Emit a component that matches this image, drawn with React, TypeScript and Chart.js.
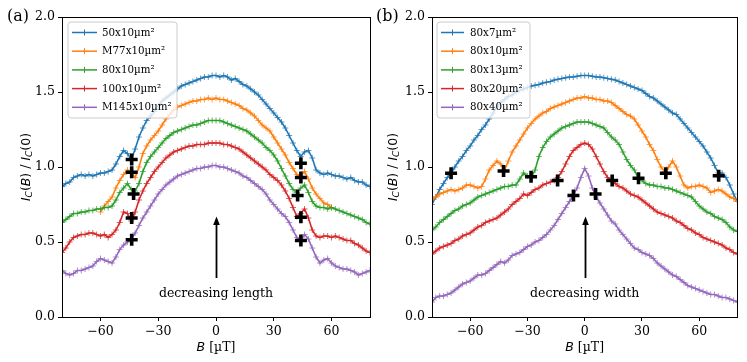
import React, { useEffect, useRef } from "react";
import { Chart, registerables } from "chart.js";

Chart.register(...registerables);

// ---------------- data ----------------
const B_GRID = [
  -80, -78, -76, -74, -72, -70, -68, -66, -64, -62,
  -60, -58, -56, -54, -52, -50, -48, -46, -44, -42,
  -40, -38, -36, -34, -32, -30, -28, -26, -24, -22,
  -20, -18, -16, -14, -12, -10, -8, -6, -4, -2,
  0,
  2, 4, 6, 8, 10, 12, 14, 16, 18, 20,
  22, 24, 26, 28, 30, 32, 34, 36, 38, 40,
  42, 44, 46, 48, 50, 52, 54, 56, 58, 60,
  62, 64, 66, 68, 70, 72, 74, 76, 78, 80,
];
const B_GRID_M77 = [
  -60, -58, -56, -54, -52, -50, -48, -46, -44, -42,
  -40, -38, -36, -34, -32, -30, -28, -26, -24, -22,
  -20, -18, -16, -14, -12, -10, -8, -6, -4, -2,
  0,
  2, 4, 6, 8, 10, 12, 14, 16, 18, 20,
  22, 24, 26, 28, 30, 32, 34, 36, 38, 40,
  42, 44, 46, 48, 50, 52, 54, 56, 58, 60,
];

// Panel (a): decreasing length
const LABELS_A = ["50x10µm²", "M77x10µm²", "80x10µm²", "100x10µm²", "M145x10µm²"];
const A_50x10 = [
  0.87, 0.89, 0.90, 0.93, 0.94, 0.95, 0.94, 0.95, 0.94, 0.95,
  0.96, 0.96, 0.97, 0.98, 1.02, 1.07, 1.11, 1.09, 1.05, 1.12,
  1.20, 1.26, 1.31, 1.34, 1.37, 1.41, 1.44, 1.46, 1.48, 1.50,
  1.52, 1.54, 1.55, 1.56, 1.57, 1.58, 1.59, 1.60, 1.60, 1.61,
  1.61,
  1.60, 1.61, 1.60, 1.58, 1.59, 1.57, 1.55, 1.54, 1.52, 1.50,
  1.48, 1.45, 1.42, 1.39, 1.36, 1.33, 1.30, 1.26, 1.21, 1.16,
  1.11, 1.07, 1.10, 1.11, 1.06, 0.98, 0.96, 0.95, 0.96, 0.95,
  0.94, 0.94, 0.93, 0.92, 0.93, 0.91, 0.90, 0.90, 0.88, 0.87,
];
const A_M77x10 = [
  0.70, 0.74, 0.77, 0.80, 0.86, 0.91, 0.95, 0.98, 0.96, 0.93,
  1.00, 1.09, 1.14, 1.18, 1.21, 1.24, 1.28, 1.32, 1.35, 1.38,
  1.40, 1.41, 1.42, 1.43, 1.44, 1.44, 1.45, 1.45, 1.46, 1.45,
  1.46,
  1.45, 1.45, 1.44, 1.43, 1.42, 1.41, 1.39, 1.38, 1.36, 1.34,
  1.31, 1.28, 1.26, 1.24, 1.20, 1.16, 1.12, 1.08, 1.03, 0.99,
  0.95, 0.94, 0.97, 0.92, 0.86, 0.82, 0.79, 0.76, 0.75, 0.73,
];
const A_80x10 = [
  0.63, 0.65, 0.67, 0.69, 0.69, 0.70, 0.70, 0.71, 0.71, 0.72,
  0.72, 0.73, 0.73, 0.74, 0.78, 0.83, 0.86, 0.89, 0.85, 0.84,
  0.89, 0.97, 1.03, 1.07, 1.10, 1.13, 1.16, 1.19, 1.21, 1.23,
  1.24, 1.25, 1.26, 1.27, 1.28, 1.28, 1.29, 1.30, 1.31, 1.31,
  1.31,
  1.31, 1.30, 1.29, 1.28, 1.27, 1.26, 1.25, 1.24, 1.22, 1.20,
  1.18, 1.16, 1.13, 1.11, 1.08, 1.04, 0.99, 0.94, 0.89, 0.85,
  0.83, 0.86, 0.88, 0.83, 0.77, 0.74, 0.73, 0.73, 0.72, 0.73,
  0.72, 0.71, 0.70, 0.69, 0.68, 0.67, 0.66, 0.65, 0.63, 0.62,
];
const A_100x10 = [
  0.43, 0.46, 0.50, 0.53, 0.54, 0.55, 0.55, 0.56, 0.56, 0.55,
  0.54, 0.55, 0.53, 0.55, 0.58, 0.63, 0.70, 0.69, 0.64, 0.70,
  0.78, 0.84, 0.89, 0.93, 0.97, 1.00, 1.03, 1.06, 1.08, 1.10,
  1.11, 1.12, 1.13, 1.14, 1.14, 1.15, 1.15, 1.15, 1.16, 1.16,
  1.16,
  1.16, 1.15, 1.15, 1.14, 1.13, 1.12, 1.10, 1.08, 1.06, 1.04,
  1.02, 1.00, 0.98, 0.95, 0.93, 0.91, 0.88, 0.84, 0.79, 0.73,
  0.67, 0.69, 0.72, 0.66, 0.58, 0.54, 0.53, 0.54, 0.54, 0.53,
  0.54, 0.53, 0.52, 0.51, 0.51, 0.49, 0.48, 0.46, 0.44, 0.43,
];
const A_M145x10 = [
  0.31, 0.29, 0.28, 0.29, 0.31, 0.31, 0.32, 0.33, 0.34, 0.37,
  0.39, 0.38, 0.37, 0.36, 0.40, 0.45, 0.48, 0.50, 0.52, 0.56,
  0.61, 0.66, 0.70, 0.74, 0.78, 0.82, 0.85, 0.88, 0.90, 0.92,
  0.94, 0.95, 0.96, 0.97, 0.98, 0.99, 0.99, 1.00, 1.00, 1.01,
  1.01,
  1.00, 1.00, 0.99, 0.98, 0.97, 0.96, 0.94, 0.93, 0.91, 0.89,
  0.87, 0.85, 0.82, 0.78, 0.75, 0.72, 0.69, 0.67, 0.63, 0.58,
  0.53, 0.51, 0.55, 0.52, 0.46, 0.40, 0.36, 0.38, 0.39, 0.36,
  0.34, 0.33, 0.32, 0.32, 0.31, 0.30, 0.28, 0.29, 0.30, 0.31,
];
const MARK_A_X = [-43.8, -43.8, -42.8, -43.8, -43.8, 44.1, 44.1, 42.4, 44.1, 44.1];
const MARK_A_Y = [1.05, 0.965, 0.82, 0.66, 0.515, 1.025, 0.93, 0.81, 0.665, 0.51];

// Panel (b): decreasing width
const LABELS_B = ["80x7µm²", "80x10µm²", "80x13µm²", "80x20µm²", "80x40µm²"];
const B_80x7 = [
  0.75, 0.80, 0.85, 0.89, 0.93, 0.96, 1.00, 1.04, 1.07, 1.11,
  1.14, 1.18, 1.21, 1.25, 1.28, 1.32, 1.36, 1.40, 1.43, 1.45,
  1.47, 1.48, 1.50, 1.51, 1.52, 1.53, 1.54, 1.545, 1.55, 1.56,
  1.565, 1.57, 1.58, 1.585, 1.59, 1.595, 1.60, 1.60, 1.605, 1.61,
  1.61,
  1.61, 1.605, 1.60, 1.60, 1.595, 1.59, 1.585, 1.58, 1.57, 1.56,
  1.55, 1.54, 1.53, 1.52, 1.51, 1.49, 1.47, 1.46, 1.44, 1.42,
  1.40, 1.38, 1.36, 1.35, 1.32, 1.29, 1.26, 1.23, 1.20, 1.17,
  1.14, 1.10, 1.06, 1.01, 0.96, 0.96, 0.93, 0.88, 0.82, 0.77,
];
const B_80x10 = [
  0.78, 0.80, 0.82, 0.83, 0.84, 0.85, 0.84, 0.85, 0.86, 0.88,
  0.88, 0.87, 0.86, 0.87, 0.92, 0.98, 1.01, 1.04, 1.02, 0.98,
  1.04, 1.10, 1.14, 1.18, 1.22, 1.26, 1.29, 1.32, 1.34, 1.36,
  1.37, 1.39, 1.40, 1.41, 1.42, 1.43, 1.44, 1.45, 1.46, 1.46,
  1.47,
  1.46, 1.46, 1.45, 1.45, 1.44, 1.44, 1.43, 1.41, 1.39, 1.37,
  1.35, 1.34, 1.32, 1.28, 1.24, 1.20, 1.15, 1.11, 1.05, 1.00,
  0.97, 1.00, 1.04, 1.00, 0.94, 0.88, 0.86, 0.87, 0.87, 0.88,
  0.87, 0.86, 0.83, 0.84, 0.85, 0.84, 0.82, 0.80, 0.79, 0.77,
];
const B_80x13 = [
  0.58, 0.60, 0.63, 0.65, 0.67, 0.69, 0.71, 0.72, 0.74, 0.75,
  0.76, 0.78, 0.80, 0.81, 0.82, 0.83, 0.84, 0.85, 0.86, 0.87,
  0.87, 0.88, 0.88, 0.92, 0.96, 0.94, 0.93, 0.98, 1.07, 1.13,
  1.17, 1.20, 1.22, 1.24, 1.26, 1.27, 1.28, 1.29, 1.30, 1.30,
  1.30,
  1.30, 1.29, 1.28, 1.27, 1.26, 1.23, 1.20, 1.18, 1.15, 1.10,
  1.05, 1.01, 0.98, 0.93, 0.91, 0.89, 0.88, 0.88, 0.87, 0.87,
  0.86, 0.86, 0.85, 0.84, 0.83, 0.82, 0.81, 0.80, 0.77, 0.74,
  0.72, 0.70, 0.69, 0.67, 0.66, 0.65, 0.63, 0.60, 0.58, 0.57,
];
const B_80x20 = [
  0.42, 0.44, 0.46, 0.47, 0.48, 0.49, 0.51, 0.52, 0.54, 0.55,
  0.56, 0.58, 0.60, 0.61, 0.63, 0.64, 0.65, 0.66, 0.68, 0.70,
  0.72, 0.75, 0.77, 0.79, 0.82, 0.81, 0.83, 0.85, 0.86, 0.88,
  0.89, 0.90, 0.91, 0.93, 0.97, 1.02, 1.07, 1.11, 1.13, 1.15,
  1.16,
  1.15, 1.12, 1.07, 1.02, 0.97, 0.93, 0.91, 0.89, 0.87, 0.86,
  0.84, 0.82, 0.81, 0.80, 0.78, 0.76, 0.74, 0.72, 0.70, 0.69,
  0.68, 0.67, 0.66, 0.64, 0.63, 0.61, 0.59, 0.58, 0.56, 0.55,
  0.53, 0.52, 0.51, 0.50, 0.49, 0.48, 0.46, 0.45, 0.43, 0.42,
];
const B_80x40 = [
  0.10, 0.13, 0.14, 0.14, 0.15, 0.16, 0.18, 0.20, 0.22, 0.23,
  0.24, 0.26, 0.28, 0.28, 0.29, 0.31, 0.33, 0.35, 0.37, 0.36,
  0.38, 0.41, 0.42, 0.43, 0.45, 0.47, 0.48, 0.50, 0.51, 0.53,
  0.55, 0.58, 0.61, 0.65, 0.69, 0.73, 0.77, 0.81, 0.86, 0.93,
  0.99,
  0.94, 0.86, 0.80, 0.76, 0.72, 0.68, 0.64, 0.62, 0.58, 0.55,
  0.52, 0.49, 0.46, 0.45, 0.43, 0.42, 0.41, 0.39, 0.36, 0.34,
  0.32, 0.30, 0.28, 0.27, 0.25, 0.23, 0.21, 0.20, 0.19, 0.18,
  0.17, 0.16, 0.15, 0.15, 0.14, 0.13, 0.13, 0.12, 0.11, 0.10,
];
const MARK_B_X = [-70, -42.5, -28.1, -14.2, -5.9, 5.7, 14.4, 28.2, 42.5, 70.2];
const MARK_B_Y = [0.958, 0.973, 0.935, 0.91, 0.81, 0.82, 0.91, 0.925, 0.958, 0.942];

const X_TICKS = [-60, -30, 0, 30, 60];
const Y_TICKS = [0, 0.5, 1.0, 1.5, 2.0];
const X_MIN = -80;
const X_MAX = 80;
const Y_MIN = 0;
const Y_MAX = 2;
const ARROW_X = 0;
const ARROW_TAIL = 0.26;
const ARROW_TIP = 0.67;
const NOTE_Y = 0.153;

// ---------------- styling ----------------
const W = 747;
const H = 362;
const COLORS = ["#1f77b4", "#ff7f0e", "#2ca02c", "#d62728", "#9467bd"];
const SERIF = '"DejaVu Serif", "Liberation Serif", serif';
const SANS = '"DejaVu Sans", "Liberation Sans", sans-serif';
const FS = 12.5;

type Run = { t: string; font: string; dy?: number };

function runsWidth(ctx: CanvasRenderingContext2D, runs: Run[]) {
  let w = 0;
  for (const r of runs) {
    ctx.font = r.font;
    w += ctx.measureText(r.t).width;
  }
  return w;
}
function drawRuns(ctx: CanvasRenderingContext2D, runs: Run[], x: number, y: number) {
  const total = runsWidth(ctx, runs);
  let cx = x - total / 2;
  for (const r of runs) {
    ctx.font = r.font;
    ctx.fillText(r.t, cx, y + (r.dy || 0));
    cx += ctx.measureText(r.t).width;
  }
}

type PanelSpec = {
  tag: string;
  labels: string[];
  xs: number[][];
  ys: number[][];
  markX: number[];
  markY: number[];
  note: string;
  padLeft: number;
  padRight: number;
  legend: { x: number; y: number; w: number; h: number; lineLen: number; textOff: number };
  tagX: number;
  ylabOff: number;
};

const PANELS: PanelSpec[] = [
  {
    tag: "(a)",
    labels: LABELS_A,
    xs: [B_GRID, B_GRID_M77, B_GRID, B_GRID, B_GRID],
    ys: [A_50x10, A_M77x10, A_80x10, A_100x10, A_M145x10],
    markX: MARK_A_X,
    markY: MARK_A_Y,
    note: "decreasing length",
    padLeft: 0,
    padRight: W - 370,
    legend: { x: 68, y: 22, w: 109, h: 96, lineLen: 25, textOff: 34 },
    tagX: 7,
    ylabOff: 37,
  },
  {
    tag: "(b)",
    labels: LABELS_B,
    xs: [B_GRID, B_GRID, B_GRID, B_GRID, B_GRID],
    ys: [B_80x7, B_80x10, B_80x13, B_80x20, B_80x40],
    markX: MARK_B_X,
    markY: MARK_B_Y,
    note: "decreasing width",
    padLeft: 432 - 62,
    padRight: W - 739,
    legend: { x: 437, y: 22, w: 93, h: 96, lineLen: 23, textOff: 33 },
    tagX: 376,
    ylabOff: 40,
  },
];

function makeConfig(spec: PanelSpec): any {
  const datasets: any[] = spec.labels.map((lab, i) => ({
    label: lab,
    data: spec.xs[i].map((x, k) => ({ x, y: spec.ys[i][k] })),
    borderColor: COLORS[i],
    backgroundColor: COLORS[i],
    borderWidth: 1.6,
    pointStyle: "cross",
    pointRadius: 3,
    pointBorderWidth: 1,
    pointBorderColor: COLORS[i] + "bb",
    tension: 0,
    order: 5 - i,
    clip: 0,
  }));
  datasets.push({
    label: "markers",
    data: spec.markX.map((x, k) => ({ x, y: spec.markY[k] })),
    showLine: false,
    borderColor: "#000",
    backgroundColor: "#000",
    pointStyle: "cross",
    pointRadius: 6,
    pointBorderWidth: 3.6,
    order: 0,
    clip: false,
  });

  const overlay = {
    id: "overlay" + spec.tag,
    afterDraw(chart: any) {
      const ctx: CanvasRenderingContext2D = chart.ctx;
      const a = chart.chartArea;
      const xs = chart.scales.x;
      const ys = chart.scales.y;
      ctx.save();
      // frame
      ctx.strokeStyle = "#000";
      ctx.lineWidth = 1;
      ctx.strokeRect(Math.round(a.left) + 0.5, Math.round(a.top) + 0.5, Math.round(a.right - a.left), Math.round(a.bottom - a.top));

      // arrow
      const ax = Math.round(xs.getPixelForValue(ARROW_X)) + 0.5;
      const yTail = ys.getPixelForValue(ARROW_TAIL);
      const yTip = ys.getPixelForValue(ARROW_TIP);
      ctx.beginPath();
      ctx.lineWidth = 1.8;
      ctx.moveTo(ax, yTail);
      ctx.lineTo(ax, yTip + 6);
      ctx.stroke();
      ctx.beginPath();
      ctx.moveTo(ax, yTip);
      ctx.lineTo(ax - 3.3, yTip + 8.5);
      ctx.lineTo(ax + 3.3, yTip + 8.5);
      ctx.closePath();
      ctx.fillStyle = "#000";
      ctx.fill();

      // note text
      ctx.fillStyle = "#000";
      ctx.font = `${FS}px ${SERIF}`;
      ctx.textAlign = "center";
      ctx.textBaseline = "middle";
      ctx.fillText(spec.note, xs.getPixelForValue(ARROW_X), ys.getPixelForValue(NOTE_Y));

      // legend
      const L = spec.legend;
      ctx.beginPath();
      const r = 3;
      ctx.moveTo(L.x + r, L.y);
      ctx.arcTo(L.x + L.w, L.y, L.x + L.w, L.y + L.h, r);
      ctx.arcTo(L.x + L.w, L.y + L.h, L.x, L.y + L.h, r);
      ctx.arcTo(L.x, L.y + L.h, L.x, L.y, r);
      ctx.arcTo(L.x, L.y, L.x + L.w, L.y, r);
      ctx.closePath();
      ctx.fillStyle = "rgba(255,255,255,0.8)";
      ctx.fill();
      ctx.strokeStyle = "#cccccc";
      ctx.lineWidth = 1;
      ctx.stroke();
      ctx.textAlign = "left";
      ctx.textBaseline = "middle";
      spec.labels.forEach((lab, i) => {
        const ry = L.y + 10.5 + i * 18.7;
        const x1 = L.x + 4;
        const x2 = x1 + L.lineLen;
        ctx.strokeStyle = COLORS[i];
        ctx.lineWidth = 1.5;
        ctx.beginPath();
        ctx.moveTo(x1, ry);
        ctx.lineTo(x2, ry);
        ctx.stroke();
        const mx = (x1 + x2) / 2;
        ctx.lineWidth = 1;
        ctx.beginPath();
        ctx.moveTo(mx, ry - 3);
        ctx.lineTo(mx, ry + 3);
        ctx.stroke();
        ctx.fillStyle = "#000";
        ctx.font = `10.3px ${SERIF}`;
        ctx.fillText(lab, L.x + L.textOff, ry + 0.5);
      });

      // y label
      ctx.fillStyle = "#000";
      ctx.textAlign = "left";
      ctx.textBaseline = "alphabetic";
      const midY = (a.top + a.bottom) / 2;
      const lx = a.left - spec.ylabOff;
      ctx.translate(lx, midY);
      ctx.rotate(-Math.PI / 2);
      const it = `italic ${FS}px ${SANS}`;
      const rg = `${FS}px ${SANS}`;
      const sub = `italic 9px ${SANS}`;
      drawRuns(
        ctx,
        [
          { t: "I", font: it },
          { t: "C", font: sub, dy: 2.5 },
          { t: "(", font: rg },
          { t: "B", font: it },
          { t: ")", font: rg },
          { t: " / ", font: `${FS}px ${SERIF}` },
          { t: "I", font: it },
          { t: "C", font: sub, dy: 2.5 },
          { t: "(0)", font: rg },
        ],
        0,
        4.5
      );
      ctx.setTransform(1, 0, 0, 1, 0, 0);

      // x label
      drawRuns(
        ctx,
        [
          { t: "B", font: it },
          { t: " [µT]", font: `${FS}px ${SERIF}` },
        ],
        (a.left + a.right) / 2,
        351
      );

      // panel tag
      ctx.font = `16px ${SERIF}`;
      ctx.textAlign = "left";
      ctx.textBaseline = "middle";
      ctx.fillText(spec.tag, spec.tagX, 17);
      ctx.restore();
    },
  };

  return {
    type: "line",
    data: { datasets },
    options: {
      animation: false,
      responsive: false,
      events: [],
      layout: { padding: { left: spec.padLeft, right: spec.padRight, top: 17, bottom: 0 } },
      plugins: { legend: { display: false }, tooltip: { enabled: false } },
      scales: {
        x: {
          type: "linear",
          min: X_MIN,
          max: X_MAX,
          afterBuildTicks: (axis: any) => {
            axis.ticks = X_TICKS.map((v) => ({ value: v }));
          },
          afterFit: (scale: any) => {
            scale.height = H - 317;
          },
          ticks: {
            color: "#000",
            padding: 3,
            maxRotation: 0,
            autoSkip: false,
            font: { family: SERIF, size: FS },
            callback: (v: any) => String(v).replace("-", "\u2212"),
          },
          grid: { display: true, drawOnChartArea: false, drawTicks: true, tickLength: 4, tickColor: "#000", tickWidth: 1 },
          border: { display: true, color: "#000", width: 1 },
        },
        y: {
          type: "linear",
          min: Y_MIN,
          max: Y_MAX,
          afterBuildTicks: (axis: any) => {
            axis.ticks = Y_TICKS.map((v) => ({ value: v }));
          },
          afterFit: (scale: any) => {
            scale.width = 62;
          },
          ticks: {
            color: "#000",
            padding: 3,
            autoSkip: false,
            font: { family: SERIF, size: FS },
            callback: (v: any) => Number(v).toFixed(1),
          },
          grid: { display: true, drawOnChartArea: false, drawTicks: true, tickLength: 4, tickColor: "#000", tickWidth: 1 },
          border: { display: true, color: "#000", width: 1 },
        },
      },
    },
    plugins: [overlay],
  };
}

function Panel({ spec }: { spec: PanelSpec }) {
  const ref = useRef<HTMLCanvasElement>(null);
  useEffect(() => {
    const chart = new Chart(ref.current as HTMLCanvasElement, makeConfig(spec));
    return () => chart.destroy();
  }, [spec]);
  return (
    <canvas
      ref={ref}
      width={W}
      height={H}
      style={{ position: "absolute", left: 0, top: 0, width: W, height: H }}
    />
  );
}

export default function App() {
  return (
    <div style={{ position: "fixed", left: 0, top: 0, width: W, height: H, background: "#fff", overflow: "hidden" }}>
      {PANELS.map((p) => (
        <Panel key={p.tag} spec={p} />
      ))}
    </div>
  );
}
